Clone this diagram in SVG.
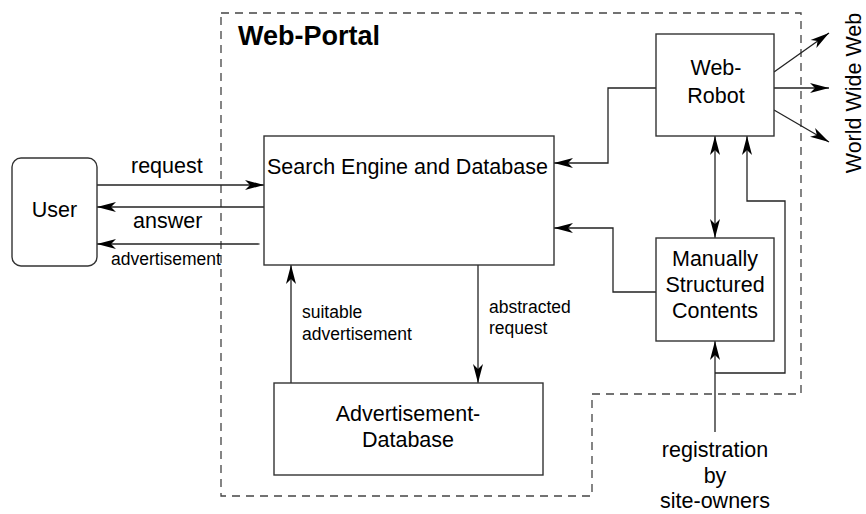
<svg xmlns="http://www.w3.org/2000/svg" width="866" height="514" viewBox="0 0 866 514">
<style>
  .box{fill:#fff;stroke:#333;stroke-width:1.4}
  .ln{fill:none;stroke:#222;stroke-width:1.3}
  .dot{fill:none;stroke:#444;stroke-width:1.3;stroke-dasharray:1.5 5.5}
  .dash{fill:none;stroke:#444;stroke-width:1.3;stroke-dasharray:8 6}
  text{font-family:"Liberation Sans",Arial,Helvetica,sans-serif;fill:#000}
  .lg{font-size:21.5px}
  .sm{font-size:17.5px}
  .c{text-anchor:middle}
  .ttl{font-size:27px;font-weight:bold}
</style>
<defs>
  <marker id="ah" viewBox="-20 -6 21 12" markerWidth="21" markerHeight="12" refX="0" refY="0" orient="auto-start-reverse" markerUnits="userSpaceOnUse">
    <path d="M0,0 L-19,-5 L-14,0 L-19,5 Z" fill="#000"/>
  </marker>
</defs>
<rect width="866" height="514" fill="#fff"/>
<path class="dash" d="M221,13 H801 V394 H592 V496 H221 Z"/>
<text class="ttl" x="238" y="45">Web-Portal</text>

<g id="connectors">
  <path class="ln" d="M97,185 H264" marker-end="url(#ah)"/>
  <path class="dot" d="M264,185 H478 V265"/>
  <path class="ln" d="M478,265 V383" marker-end="url(#ah)"/>
  <path class="ln" d="M264,207 H97" marker-end="url(#ah)"/>
  <path class="ln" d="M258,244 H97" marker-end="url(#ah)"/>
  <path class="dot" d="M258,244 H291 V265"/>
  <path class="ln" d="M291,383 V265" marker-end="url(#ah)"/>
  <path class="ln" d="M656,88 H608 V163 H554" marker-end="url(#ah)"/>
  <path class="ln" d="M774,72 L829,33" marker-end="url(#ah)"/>
  <path class="ln" d="M774,88 H829" marker-end="url(#ah)"/>
  <path class="ln" d="M774,110 L829,142" marker-end="url(#ah)"/>
  <path class="ln" d="M715,136 V238" marker-start="url(#ah)" marker-end="url(#ah)"/>
  <path class="ln" d="M715,373 H785 V201 H747 V136" marker-end="url(#ah)"/>
  <path class="ln" d="M715,432 V341" marker-end="url(#ah)"/>
  <path class="ln" d="M656,292 H613 V228 H554" marker-end="url(#ah)"/>
  <text class="lg" x="131" y="173">request</text>
  <text class="lg" x="133" y="228">answer</text>
  <text class="sm" x="111" y="265">advertisement</text>
  <text class="sm" x="302" y="318">suitable</text>
  <text class="sm" x="302" y="340">advertisement</text>
  <text class="sm" x="489" y="313">abstracted</text>
  <text class="sm" x="489" y="334">request</text>
</g>

<g id="user">
  <rect class="box" x="12" y="158" width="85" height="108" rx="9"/>
  <text class="lg c" x="54.5" y="217">User</text>
</g>
<g id="search">
  <rect class="box" x="264" y="136" width="290" height="129"/>
  <text class="lg" x="267" y="174">Search Engine and Database</text>
</g>
<g id="adsdb">
  <rect class="box" x="274" y="383" width="269" height="92"/>
  <text class="lg c" x="408" y="421">Advertisement-</text>
  <text class="lg c" x="408" y="447">Database</text>
</g>
<g id="robot">
  <rect class="box" x="656" y="34" width="118" height="102"/>
  <text class="lg c" x="716" y="75">Web-</text>
  <text class="lg c" x="716" y="103">Robot</text>
</g>
<g id="msc">
  <rect class="box" x="656" y="238" width="118" height="103"/>
  <text class="lg c" x="715" y="266">Manually</text>
  <text class="lg c" x="715" y="292">Structured</text>
  <text class="lg c" x="715" y="318">Contents</text>
</g>
<g id="registration">
  <text class="lg c" x="715" y="457">registration</text>
  <text class="lg c" x="715" y="483">by</text>
  <text class="lg c" x="715" y="508">site-owners</text>
</g>
<g id="www">
  <text class="lg c" transform="translate(861,93) rotate(-90)">World Wide Web</text>
</g>
</svg>
